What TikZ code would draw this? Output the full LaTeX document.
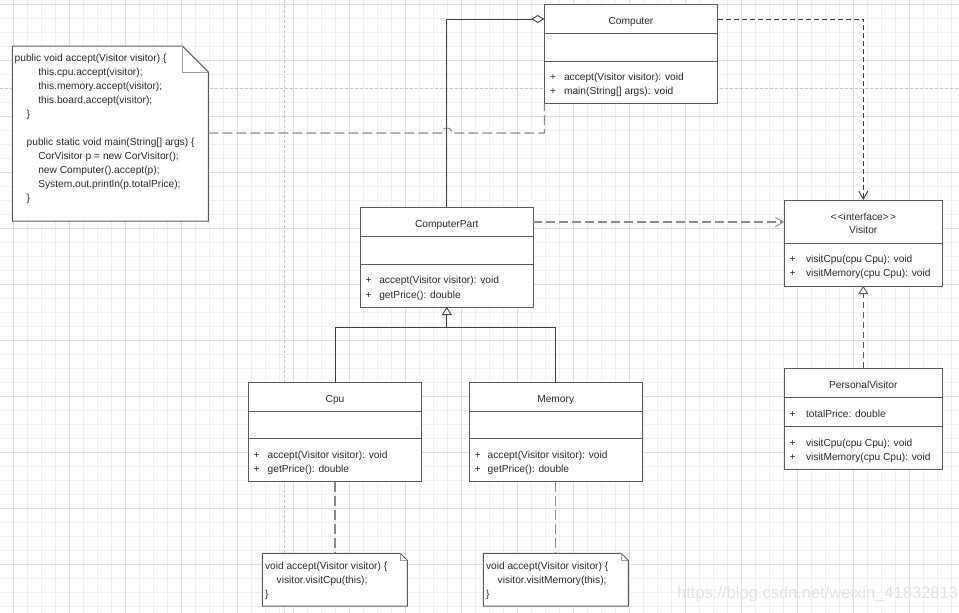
\documentclass[tikz,border=0pt]{standalone}
\usepackage{fontspec}
\setmainfont{Liberation Sans}
\usetikzlibrary{arrows.meta,calc}
\definecolor{boxline}{HTML}{5A5A5A}
\definecolor{txt}{HTML}{2A2A2A}
\definecolor{conngray}{HTML}{8A8A8A}
\definecolor{conndark}{HTML}{404040}
\definecolor{gridminor}{HTML}{F0F0F0}
\definecolor{gridmajor}{HTML}{DEDEDE}
\definecolor{pagebrk}{HTML}{C8C8C8}
\definecolor{wmark}{HTML}{E2E2E2}
\newcommand{\umlfont}{\fontsize{10.2}{14}\selectfont}
\tikzset{
  umlbox/.style={draw=boxline, fill=white, line width=1pt, inner sep=0pt, outer sep=0pt, anchor=north west},
  divider/.style={draw=boxline, line width=1pt},
  lbl/.style={inner sep=0pt, outer sep=0pt, text=txt, font=\umlfont, anchor=base west, yshift=-1.5pt},
  ttl/.style={inner sep=0pt, outer sep=0pt, text=txt, font=\umlfont, anchor=base, yshift=-1.5pt},
  notebody/.style={inner sep=0pt, outer sep=0pt, anchor=north west, draw=none},
  noteline/.style={draw=boxline, fill=white, line width=1pt, line join=miter},
  foldline/.style={draw=boxline!60, line width=0.8pt},
  conn/.style={draw=conndark, line width=0.85pt},
  depdark/.style={draw=conndark, line width=0.9pt, dash pattern=on 5pt off 3pt},
  depgray/.style={draw=conngray, line width=1.1pt, dash pattern=on 9pt off 4pt},
  realdash/.style={draw=boxline, line width=1pt, dash pattern=on 6pt off 4pt},
  noteconn/.style={draw=conngray, line width=1.1pt, dash pattern=on 10pt off 4pt},
  openv/.tip={Straight Barb[length=8pt,width=9pt,line width=0.9pt]},
  hollowtri/.tip={Triangle[length=8pt,width=10pt,fill=white,line width=0.9pt]},
  hollowdia/.tip={Diamond[length=13pt,width=8pt,fill=white,line width=0.9pt]},
}
\begin{document}
\begin{tikzpicture}[x=1pt,y=-1pt]
\useasboundingbox (0,0) rectangle (959,613);
\fill[white] (0,0) rectangle (959,613);
% grid
\begin{scope}
\clip (0,0) rectangle (959,613);
\foreach \k in {0,...,69} \draw[gridminor, line width=1pt] ({-1+14*\k},0) -- ({-1+14*\k},613);
\foreach \k in {0,...,44} \draw[gridminor, line width=1pt] (0,{-9.3+14*\k}) -- (959,{-9.3+14*\k});
\foreach \k in {0,...,17} \draw[gridmajor, line width=1pt] ({13+56*\k},0) -- ({13+56*\k},613);
\foreach \k in {0,...,10} \draw[gridmajor, line width=1pt] (0,{4.7+56*\k}) -- (959,{4.7+56*\k});
\draw[pagebrk, line width=0.9pt, dash pattern=on 3pt off 2pt] (284,0) -- (284,613);
\draw[pagebrk, line width=0.9pt, dash pattern=on 3pt off 2pt] (0,88.3) -- (959,88.3);
\end{scope}

% helper coordinates
\coordinate (aggy) at (0,19);
\coordinate (cpy) at (0,222);
\coordinate (notey) at (0,133);
\coordinate (geny) at (0,327.7);

% ---------- Computer ----------
\node[umlbox, minimum width=173.4pt, minimum height=99pt] (computer) at (544.3,4.3) {};
\draw[divider] (544.3,33.3) -- +(173.4,0);
\draw[divider] (544.3,61) -- +(173.4,0);
\node[ttl] (computer-t) at (631,23) {Computer};
\node[lbl] (computer-p1) at (550,78.7) {+};
\node[lbl] (computer-m1) at (564,78.7) {accept(Visitor visitor): void};
\node[lbl] (computer-p2) at (550,93) {+};
\node[lbl] (computer-m2) at (564,93) {main(String[] args): void};

% ---------- Visitor ----------
\node[umlbox, minimum width=158pt, minimum height=86pt] (visitor) at (784.3,200) {};
\draw[divider] (784.3,243.3) -- +(158,0);
\node[ttl] (visitor-s) at (863.3,219) {<\kern1.2pt<interface>\kern1.2pt>};
\node[ttl] (visitor-t) at (863.3,232.3) {Visitor};
\node[lbl] (visitor-p1) at (789.5,261.3) {+};
\node[lbl] (visitor-m1) at (806,261.3) {visitCpu(cpu Cpu): void};
\node[lbl] (visitor-p2) at (789.5,275.3) {+};
\node[lbl] (visitor-m2) at (806,275.3) {visitMemory(cpu Cpu): void};

% ---------- PersonalVisitor ----------
\node[umlbox, minimum width=158pt, minimum height=100.7pt] (pv) at (784.3,368.3) {};
\draw[divider] (784.3,397.3) -- +(158,0);
\draw[divider] (784.3,426) -- +(158,0);
\node[ttl] (pv-t) at (863.3,387.3) {PersonalVisitor};
\node[lbl] (pv-p0) at (789.5,416.3) {+};
\node[lbl] (pv-a1) at (806,416.3) {totalPrice: double};
\node[lbl] (pv-p1) at (789.5,445.3) {+};
\node[lbl] (pv-m1) at (806,445.3) {visitCpu(cpu Cpu): void};
\node[lbl] (pv-p2) at (789.5,458.7) {+};
\node[lbl] (pv-m2) at (806,458.7) {visitMemory(cpu Cpu): void};

% ---------- ComputerPart ----------
\node[umlbox, minimum width=173pt, minimum height=99.7pt] (cpart) at (360.3,207.3) {};
\draw[divider] (360.3,236.7) -- +(173,0);
\draw[divider] (360.3,264) -- +(173,0);
\node[ttl] (cpart-t) at (446.8,226.3) {ComputerPart};
\node[lbl] (cpart-p1) at (365.5,282.3) {+};
\node[lbl] (cpart-m1) at (379.3,282.3) {accept(Visitor visitor): void};
\node[lbl] (cpart-p2) at (365.5,296.7) {+};
\node[lbl] (cpart-m2) at (379.3,296.7) {getPrice(): double};

% ---------- Cpu ----------
\node[umlbox, minimum width=173.4pt, minimum height=99pt] (cpu) at (248.3,382.7) {};
\draw[divider] (248.3,411.3) -- +(173.4,0);
\draw[divider] (248.3,438.7) -- +(173.4,0);
\node[ttl] (cpu-t) at (335,400.7) {Cpu};
\node[lbl] (cpu-p1) at (253.5,457.3) {+};
\node[lbl] (cpu-m1) at (267.7,457.3) {accept(Visitor visitor): void};
\node[lbl] (cpu-p2) at (253.5,470.7) {+};
\node[lbl] (cpu-m2) at (267.7,470.7) {getPrice(): double};

% ---------- Memory ----------
\node[umlbox, minimum width=173.4pt, minimum height=99pt] (memory) at (469,382.7) {};
\draw[divider] (469,411.3) -- +(173.4,0);
\draw[divider] (469,438.7) -- +(173.4,0);
\node[ttl] (memory-t) at (555.7,400.7) {Memory};
\node[lbl] (memory-p1) at (474.5,457.3) {+};
\node[lbl] (memory-m1) at (487.7,457.3) {accept(Visitor visitor): void};
\node[lbl] (memory-p2) at (474.5,470.7) {+};
\node[lbl] (memory-m2) at (487.7,470.7) {getPrice(): double};

% ---------- Notes ----------
\node[notebody, minimum width=196pt, minimum height=175pt] (note1) at (12.3,46) {};
\draw[noteline] (note1.north west) -- ($(note1.north east)+(-26,0)$) -- ($(note1.north east)+(0,26)$) -- (note1.south east) -- (note1.south west) -- cycle;
\draw[foldline] ($(note1.north east)+(-26,0)$) -- ($(note1.north east)+(-26,26)$) -- ($(note1.north east)+(0,26)$);
\node[lbl] (n1-1) at (14.7,60.3) {public void accept(Visitor visitor) \{};
\node[lbl] (n1-2) at (38.3,74.3) {this.cpu.accept(visitor);};
\node[lbl] (n1-3) at (38.3,88.3) {this.memory.accept(visitor);};
\node[lbl] (n1-4) at (38.3,102.3) {this.board.accept(visitor);};
\node[lbl] (n1-5) at (26.7,116.3) {\}};
\node[lbl] (n1-6) at (26.7,144.3) {public static void main(String[] args) \{};
\node[lbl] (n1-7) at (38.3,158.3) {CorVisitor p = new CorVisitor();};
\node[lbl] (n1-8) at (38.3,172.3) {new Computer().accept(p);};
\node[lbl] (n1-9) at (38.3,186.3) {System.out.println(p.totalPrice);};
\node[lbl] (n1-10) at (26.7,200.3) {\}};

\node[notebody, minimum width=145pt, minimum height=52.7pt] (note2) at (262.3,553.3) {};
\draw[noteline] (note2.north west) -- ($(note2.north east)+(-7,0)$) -- ($(note2.north east)+(0,7)$) -- (note2.south east) -- (note2.south west) -- cycle;
\draw[foldline] ($(note2.north east)+(-7,0)$) -- ($(note2.north east)+(-7,7)$) -- ($(note2.north east)+(0,7)$);
\node[lbl] (n2-1) at (265,568) {void accept(Visitor visitor) \{};
\node[lbl] (n2-2) at (276.7,582) {visitor.visitCpu(this);};
\node[lbl] (n2-3) at (265,596) {\}};

\node[notebody, minimum width=145pt, minimum height=52.7pt] (note3) at (483.3,553.3) {};
\draw[noteline] (note3.north west) -- ($(note3.north east)+(-7,0)$) -- ($(note3.north east)+(0,7)$) -- (note3.south east) -- (note3.south west) -- cycle;
\draw[foldline] ($(note3.north east)+(-7,0)$) -- ($(note3.north east)+(-7,7)$) -- ($(note3.north east)+(0,7)$);
\node[lbl] (n3-1) at (486,568) {void accept(Visitor visitor) \{};
\node[lbl] (n3-2) at (497.7,582) {visitor.visitMemory(this);};
\node[lbl] (n3-3) at (486,596) {\}};

% ---------- Connectors ----------
% aggregation Computer <>--- ComputerPart
\draw[conn, hollowdia-] (computer.west |- aggy) -| (cpart.north);
% dependency Computer ---> Visitor
\draw[depdark, -openv] (computer.east |- aggy) -| (visitor.north);
% dependency ComputerPart ---> Visitor
\draw[depgray, -openv] (cpart.east |- cpy) -- (visitor.west |- cpy);
% realization PersonalVisitor ---|> Visitor
\draw[realdash, -hollowtri] (pv.north) -- (visitor.south);
% generalization Cpu, Memory ---|> ComputerPart
\draw[conn] (cpu.north) |- (memory.north |- geny) -- (memory.north);
\draw[conn, -hollowtri] (cpart.south |- geny) -- (cpart.south);
% note links
\draw[noteconn] (note1.east |- notey) -- ($(cpart.north |- notey)+(-5,0)$)
  .. controls ($(cpart.north |- notey)+(-5,-7)$) and ($(cpart.north |- notey)+(5,-7)$) .. ($(cpart.north |- notey)+(5,0)$)
  -- (computer.south west |- notey) -- (computer.south west);
\draw[noteconn] (cpu.south) -- (cpu.south |- note2.north);
\draw[noteconn] (memory.south) -- (memory.south |- note3.north);

% watermark
\node[inner sep=0pt, anchor=base west, text=wmark, font=\fontsize{16.5}{18}\selectfont] (wm) at (677,598.5) {https://blog.csdn.net/weixin\_41832813};
\end{tikzpicture}
\end{document}
